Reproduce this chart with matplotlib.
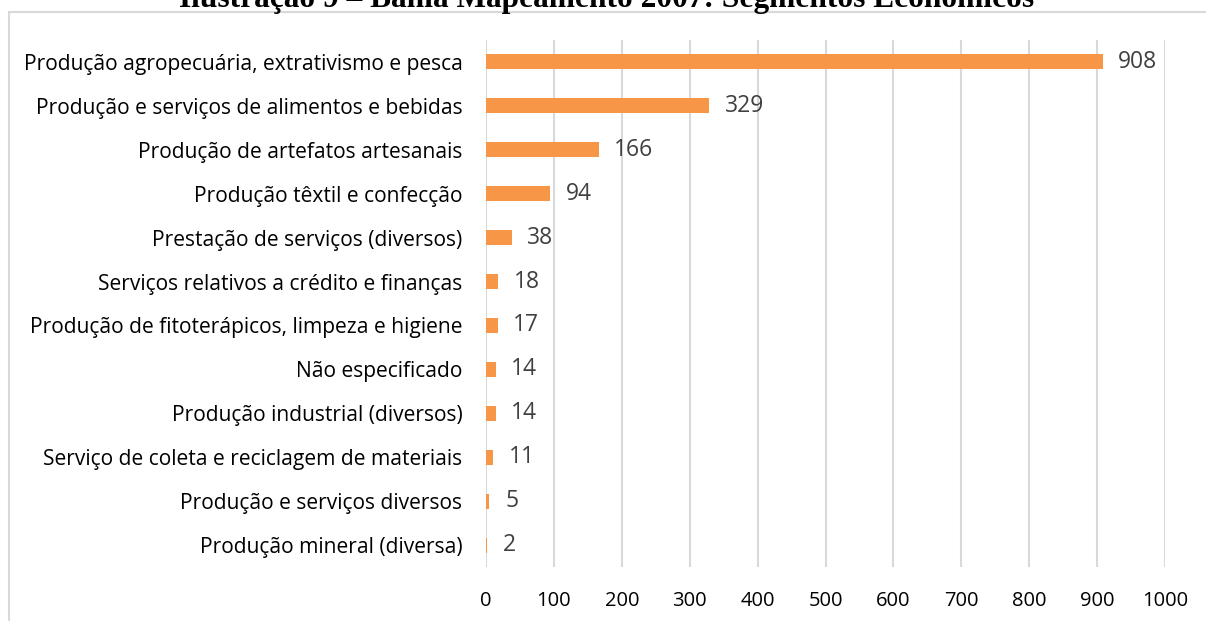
import matplotlib.pyplot as plt
from matplotlib.patches import Rectangle

# dados (de cima para baixo)
categorias = [
    'Produção agropecuária, extrativismo e pesca',
    'Produção e serviços de alimentos e bebidas',
    'Produção de artefatos artesanais',
    'Produção têxtil e confecção',
    'Prestação de serviços (diversos)',
    'Serviços relativos a crédito e finanças',
    'Produção de fitoterápicos, limpeza e higiene',
    'Não especificado',
    'Produção industrial (diversos)',
    'Serviço de coleta e reciclagem de materiais',
    'Produção e serviços diversos',
    'Produção mineral (diversa)',
]
valores = [908, 329, 166, 94, 38, 18, 17, 14, 14, 11, 5, 2]
xticks = [0, 100, 200, 300, 400, 500, 600, 700, 800, 900, 1000]
titulo = 'Ilustração 9 – Bahia Mapeamento 2007: Segmentos Econômicos'

plt.rcParams['font.family'] = ['Open Sans', 'DejaVu Sans']

fig = plt.figure(figsize=(12.06, 6.21), dpi=100)
W, H = 1206, 621

# moldura do gráfico
fig.patches.append(Rectangle((9 / W, -0.1), 1.2, 1 - 12 / H + 0.1, transform=fig.transFigure,
                             fill=False, edgecolor='#D9D9D9', linewidth=1.5))
fig.text(607 / W, 1 - 7 / H, titulo, ha='center', va='baseline', fontsize=22.6,
         fontweight='bold', family='Liberation Serif')

ax = fig.add_axes([486 / W, 1 - 567 / H, (1165 - 486) / W, (567 - 40) / H])
y = list(range(len(categorias)))
ax.barh(y, valores, height=0.34, color='#F79646', zorder=3)
for yi, v in zip(y, valores):
    ax.text(v + 23, yi, str(v), va='center', ha='left', fontsize=16.5, color='#404040')

ax.set_xlim(0, 1000)
ax.set_ylim(len(categorias) - 0.5, -0.5)
ax.set_xticks(xticks)
ax.set_xticklabels([str(t) for t in xticks], fontsize=14.5)
ax.set_yticks(y)
ax.set_yticklabels(categorias, fontsize=15.1)
ax.grid(axis='x', color='#D9D9D9', linewidth=1.5, zorder=0)
ax.tick_params(length=0)
ax.tick_params(axis='x', pad=17)
ax.tick_params(axis='y', pad=17)
for s in ax.spines.values():
    s.set_visible(False)

fig.savefig('out.png', dpi=100)
